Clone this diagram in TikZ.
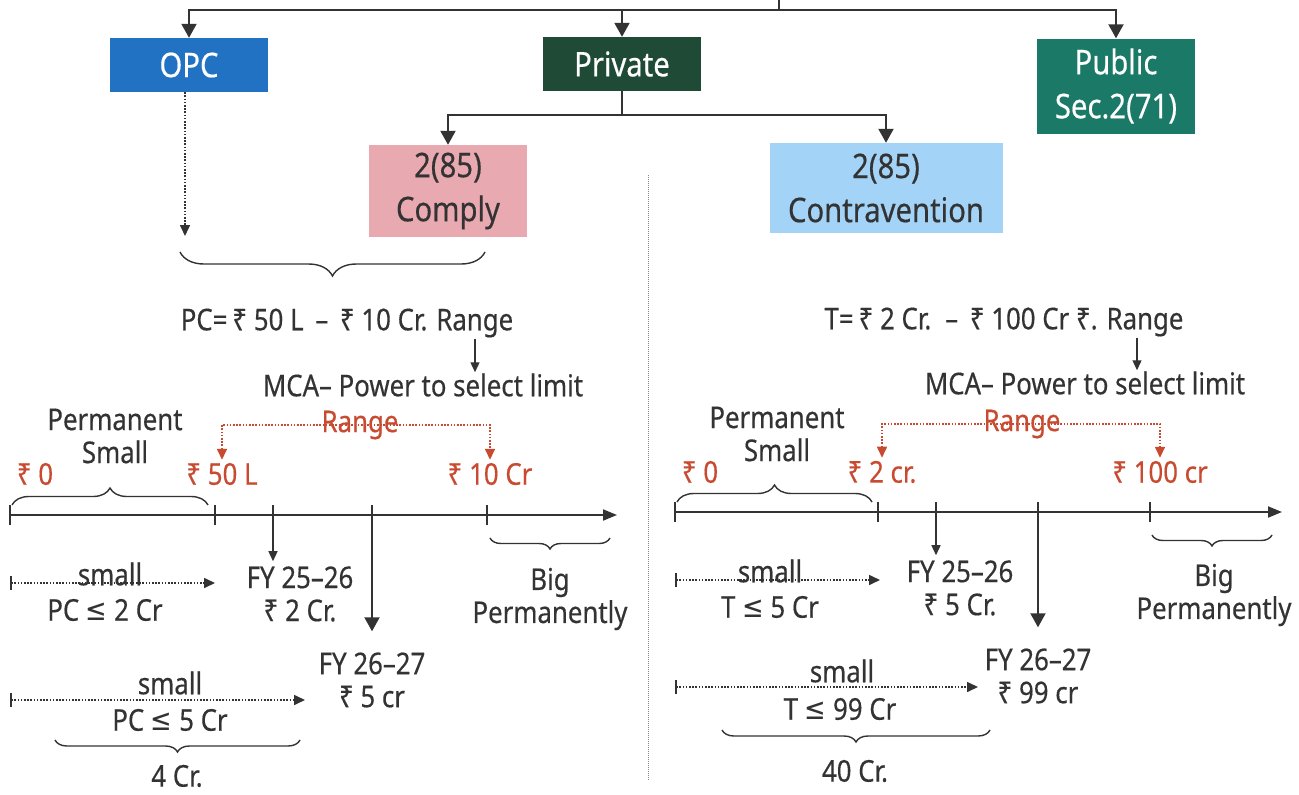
\documentclass[tikz,border=0pt]{standalone}
\usepackage{fontspec}
\setmainfont{Noto Sans}[FakeStretch=0.86, FakeBold=0.4]
\newfontfamily\symfont{DejaVu Sans}[FakeStretch=0.86]
\usetikzlibrary{calc, positioning, arrows.meta, decorations.pathreplacing}
\definecolor{ink}{HTML}{333333}
\definecolor{opcblue}{HTML}{2272C3}
\definecolor{privgreen}{HTML}{1F4A35}
\definecolor{pubgreen}{HTML}{1B7A67}
\definecolor{complypink}{HTML}{E9A9B0}
\definecolor{contrablue}{HTML}{A3D4F7}
\definecolor{rangered}{HTML}{C84B31}
\newcommand{\leqs}{{\symfont ≤}}
\tikzset{
  box/.style={rectangle, minimum width=158pt, minimum height=54pt, inner sep=2pt, align=center, font=\fontsize{34}{44}\selectfont},
  lbl/.style={text=ink, align=center, inner sep=1pt, font=\fontsize{30}{33}\selectfont},
  redlbl/.style={lbl, text=rangered},
  line/.style={draw=ink, line width=2pt},
  arr/.style={line, -{Triangle[length=14pt, width=15pt]}},
  thinarr/.style={draw=ink, line width=1.3pt, -{Triangle[length=10pt, width=9pt]}},
  dots/.style={line width=1.6pt, dash pattern=on 1.6pt off 1.6pt},
  dotdown/.style={draw=ink, dots, -{Triangle[length=11pt, width=10pt]}},
  dotarr/.style={draw=ink, dots, {Bar[width=14pt]}-{Triangle[length=11pt, width=10pt]}},
  redarr/.style={draw=rangered, dots, {Triangle[length=11pt, width=10pt]}-{Triangle[length=11pt, width=10pt]}},
  axis/.style={line, -{Triangle[length=14pt, width=11pt]}},
  brc/.style={draw=ink, line width=1.4pt, decorate, decoration={brace, amplitude=14pt}},
  divider/.style={draw=ink!60, line width=1pt, densely dotted}
}
\begin{document}
\begin{tikzpicture}[x=1pt, y=-1pt]
\useasboundingbox (0,0) rectangle (1299,795);

% company types
\node[box, fill=opcblue, text=white] (opc) at (189,65) {OPC};
\node[box, fill=privgreen, text=white] (private) at (622,64) {Private};
\node[box, fill=pubgreen, text=white, minimum height=95pt] (public) at (1116,86) {Public\\Sec.2(71)};
\node[box, fill=complypink, text=ink, minimum height=92pt] (comply) at (448,191) {2(85)\\Comply};
\node[box, fill=contrablue, text=ink, minimum width=233pt, minimum height=90pt] (contra) at (886,188) {2(85)\\Contravention};

\coordinate (root) at (779,0);
\coordinate (hub) at (779,10);
\draw[line] (root) -- (hub);
\draw[arr] (hub) -| (opc.north);
\draw[arr] (hub) -| (private.north);
\draw[arr] (hub) -| (public.north);

\coordinate (split) at (622,115);
\draw[line] (private.south) -- (split);
\draw[arr] (split) -| (comply.north);
\draw[arr] (split) -| (contra.north);

\coordinate (opcfoot) at (185,236);
\draw[dotdown] (opc.south -| opcfoot) -- (opcfoot);
\coordinate (bl) at (180,252);
\coordinate (br) at (485,252);
\draw[brc, decoration={mirror, amplitude=24pt}] (bl) -- (br);

\coordinate (divtop) at (648,175);
\coordinate (divbot) at (648,780);
\draw[divider] (divtop) -- (divbot);

% left: private company
\node[lbl] (pcl) at (347,323) {PC=\,₹ 50 L \,–\, ₹ 10 Cr. Range};
\node[lbl] (mcal) at (423,385) {MCA– Power to select limit};
\coordinate (lsel) at (475,0);
\draw[thinarr] (pcl.south -| lsel) -- (mcal.north -| lsel);

\node[lbl] (perml) at (115,436) {Permanent\\Small};
\node[redlbl] (l0) at (35,474) {₹ 0};
\node[redlbl] (l50) at (222,474) {₹ 50 L};
\node[redlbl] (l10) at (490,474) {₹ 10 Cr};
\coordinate (lrange) at (360,425);
\draw[redarr] ([yshift=2pt]l50.north) |- (lrange) -| ([yshift=2pt]l10.north);
\node[redlbl] (rangel) at (lrange) {Range};

\coordinate (lax0) at (10,515);
\coordinate (laxend) at (617,515);
\coordinate (lt1) at (215,515);
\coordinate (lt2) at (273,515);
\coordinate (lt3) at (372,515);
\coordinate (lt4) at (487,515);
\draw[axis] (lax0) -- (laxend);
\draw[line] (lax0) ++(0,-10) -- ++(0,20);
\draw[line] (lt1) ++(0,-10) -- ++(0,20);
\draw[line] (lt2) ++(0,-10) -- ++(0,10);
\draw[line] (lt3) ++(0,-10) -- ++(0,10);
\draw[line] (lt4) ++(0,-10) -- ++(0,20);
\coordinate (lbs) at (12,505);
\coordinate (lbe) at (208,505);
\draw[brc, decoration={amplitude=17pt}] (lbs) -- (lbe);
\coordinate (lbigs) at (490,538);
\coordinate (lbige) at (610,538);
\draw[brc, decoration={mirror, amplitude=11pt}] (lbigs) -- (lbige);
\node[lbl] (bigl) at (550,599) {Big\\Permanently};

\node[lbl] (fyl1) at (300,594) {FY 25–26\\₹ 2 Cr.};
\draw[thinarr] (lt2) -- ([yshift=4pt]lt2 |- fyl1.north);
\node[lbl] (fyl2) at (372,680) {FY 26–27\\₹ 5 cr};
\draw[arr] (lt3) -- ([yshift=20pt]lt3 |- fyl2.north);

\coordinate (ls1a) at (10,583);
\coordinate (ls1b) at (215,583);
\draw[dotarr] (ls1a) -- (ls1b);
\node[lbl] (smalll1) at (110,574) {small};
\node[lbl] (pcl1) at (105,610) {PC \leqs\ 2 Cr};

\coordinate (ls2a) at (10,700);
\coordinate (ls2b) at (305,700);
\draw[dotarr] (ls2a) -- (ls2b);
\node[lbl] (smalll2) at (170,683) {small};
\node[lbl] (pcl2) at (170,720) {PC \leqs\ 5 Cr};
\coordinate (lb4s) at (55,740);
\coordinate (lb4e) at (300,740);
\draw[brc, decoration={mirror, amplitude=12pt}] (lb4s) -- (lb4e);
\node[lbl] (fourl) at (177,776) {4 Cr.};

% right: private company in contravention
\node[lbl] (tr) at (1004,322) {T=\,₹ 2 Cr. \,–\, ₹ 100 Cr ₹. Range};
\node[lbl] (mcar) at (1085,383) {MCA– Power to select limit};
\coordinate (rsel) at (1137,0);
\draw[thinarr] (tr.south -| rsel) -- (mcar.north -| rsel);

\node[lbl] (permr) at (777,434) {Permanent\\Small};
\node[redlbl] (r0) at (700,472) {₹ 0};
\node[redlbl] (r2) at (882,472) {₹ 2 cr.};
\node[redlbl] (r100) at (1160,472) {₹ 100 cr};
\coordinate (rrange) at (1022,424);
\draw[redarr] ([yshift=2pt]r2.north) |- (rrange) -| ([yshift=2pt]r100.north);
\node[redlbl] (ranger) at (rrange) {Range};

\coordinate (rax0) at (675,512);
\coordinate (raxend) at (1282,512);
\coordinate (rt1) at (878,512);
\coordinate (rt2) at (936,512);
\coordinate (rt3) at (1038,512);
\coordinate (rt4) at (1150,512);
\draw[axis] (rax0) -- (raxend);
\draw[line] (rax0) ++(0,-10) -- ++(0,20);
\draw[line] (rt1) ++(0,-10) -- ++(0,20);
\draw[line] (rt2) ++(0,-10) -- ++(0,10);
\draw[line] (rt3) ++(0,-10) -- ++(0,10);
\draw[line] (rt4) ++(0,-10) -- ++(0,20);
\coordinate (rbs) at (677,502);
\coordinate (rbe) at (872,502);
\draw[brc, decoration={amplitude=17pt}] (rbs) -- (rbe);
\coordinate (rbigs) at (1152,535);
\coordinate (rbige) at (1272,535);
\draw[brc, decoration={mirror, amplitude=11pt}] (rbigs) -- (rbige);
\node[lbl] (bigr) at (1214,595) {Big\\Permanently};

\node[lbl] (fyr1) at (960,588) {FY 25–26\\₹ 5 Cr.};
\draw[thinarr] (rt2) -- ([yshift=4pt]rt2 |- fyr1.north);
\node[lbl] (fyr2) at (1038,676) {FY 26–27\\₹ 99 cr};
\draw[arr] (rt3) -- ([yshift=20pt]rt3 |- fyr2.north);

\coordinate (rs1a) at (675,580);
\coordinate (rs1b) at (880,580);
\draw[dotarr] (rs1a) -- (rs1b);
\node[lbl] (smallr1) at (770,571) {small};
\node[lbl] (tr1) at (770,607) {T \leqs\ 5 Cr};

\coordinate (rs2a) at (675,687);
\coordinate (rs2b) at (978,687);
\draw[dotarr] (rs2a) -- (rs2b);
\node[lbl] (smallr2) at (842,671) {small};
\node[lbl] (tr2) at (840,709) {T \leqs\ 99 Cr};
\coordinate (rb40s) at (722,730);
\coordinate (rb40e) at (990,730);
\draw[brc, decoration={mirror, amplitude=12pt}] (rb40s) -- (rb40e);
\node[lbl] (fortyr) at (855,771) {40 Cr.};
\end{tikzpicture}
\end{document}
